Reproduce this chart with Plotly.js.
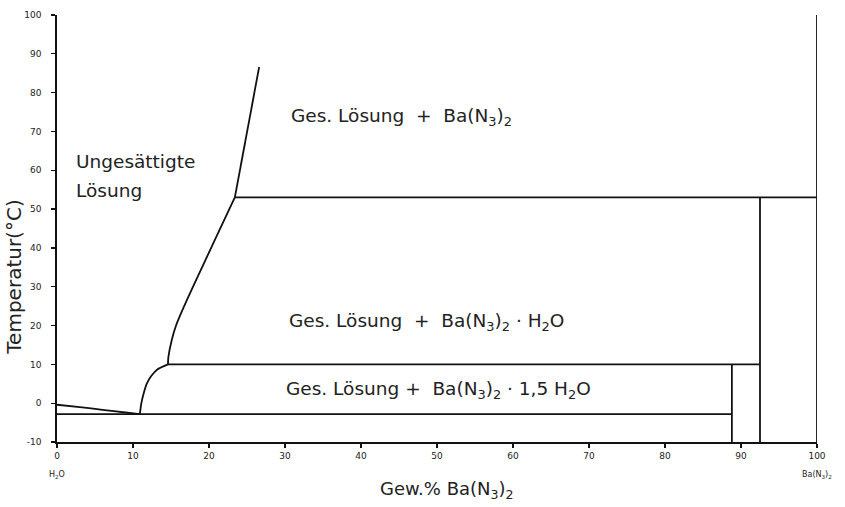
<!DOCTYPE html>
<html>
<head>
<meta charset="utf-8">
<script src="https://cdn.plot.ly/plotly-3.0.1.min.js"></script>
<style>html,body{margin:0;padding:0;background:#fff;}#chart{width:845px;height:507px;}</style>
</head>
<body>
<div id="chart"></div>
<script>
// Phase boundaries of Ba(N3)2 - H2O (wt% Ba(N3)2 vs temperature °C)
const iceCurveX = [0, 3, 6, 9, 10.9];
const iceCurveT = [-0.4, -1.0, -1.7, -2.4, -2.8];

const hydrate15CurveX = [10.9, 11.1, 11.4, 11.8, 12.4, 13.2, 14.6];
const hydrate15CurveT = [-2.8, 0.0, 2.5, 5.0, 7.0, 8.7, 10.0];

const hydrate1CurveX = [14.6, 14.65, 15.1, 15.7, 17.1, 23.4];
const hydrate1CurveT = [10.0, 11.8, 16.3, 20.2, 26.6, 53.0];

const anhydrousCurveX = [23.4, 26.6];
const anhydrousCurveT = [53.0, 86.6];

const eutecticX = [0, 88.8];
const eutecticT = [-2.8, -2.8];

const transition1X = [14.6, 92.5];
const transition1T = [10.0, 10.0];

const transition2X = [23.4, 100];
const transition2T = [53.0, 53.0];

const hydrate15ColX = [88.8, 88.8];
const hydrate15ColT = [-10, 10.0];

const hydrate1ColX = [92.5, 92.5];
const hydrate1ColT = [-10, 53.0];

const rightEdgeX = [100, 100];
const rightEdgeT = [-10, 100];

const xTicks = [0, 10, 20, 30, 40, 50, 60, 70, 80, 90, 100];
const yTicks = [-10, 0, 10, 20, 30, 40, 50, 60, 70, 80, 90, 100];

const regionLabels = [
  {x: 2.3, y: 62.3, text: 'Ungesättigte'},
  {x: 2.3, y: 54.8, text: 'Lösung'},
  {x: 30.5, y: 73.6, text: 'Ges. Lösung  +  Ba(N<sub>3</sub>)<sub>2</sub>'},
  {x: 30.2, y: 21.0, text: 'Ges. Lösung  +  Ba(N<sub>3</sub>)<sub>2</sub> · H<sub>2</sub>O'},
  {x: 29.9, y: 3.4, text: 'Ges. Lösung +  Ba(N<sub>3</sub>)<sub>2</sub> · 1,5 H<sub>2</sub>O'}
];

const lineStyle = {color: '#111', width: 1.8};
const series = [
  [iceCurveX, iceCurveT, 'spline'],
  [hydrate15CurveX, hydrate15CurveT, 'spline'],
  [hydrate1CurveX, hydrate1CurveT, 'spline'],
  [anhydrousCurveX, anhydrousCurveT, 'linear'],
  [eutecticX, eutecticT, 'linear'],
  [transition1X, transition1T, 'linear'],
  [transition2X, transition2T, 'linear'],
  [hydrate15ColX, hydrate15ColT, 'linear'],
  [hydrate1ColX, hydrate1ColT, 'linear'],
  [rightEdgeX, rightEdgeT, 'linear']
];
const traces = series.map(s => ({
  x: s[0], y: s[1], mode: 'lines', type: 'scatter',
  line: Object.assign({shape: s[2], smoothing: 0.6}, lineStyle),
  hoverinfo: 'skip', showlegend: false, cliponaxis: false
}));

const font = 'DejaVu Sans, sans-serif';
const annotations = regionLabels.map(l => ({
  x: l.x, y: l.y, xref: 'x', yref: 'y', text: l.text, showarrow: false,
  xanchor: 'left', yanchor: 'middle', font: {family: font, size: 18.5, color: '#222'}
}));
annotations.push({x: 0, y: -0.06, xref: 'x', yref: 'paper', text: 'H<sub>2</sub>O', showarrow: false,
  xanchor: 'center', yanchor: 'top', font: {family: font, size: 8, color: '#222'}});
annotations.push({x: 100, y: -0.06, xref: 'x', yref: 'paper', text: 'Ba(N<sub>3</sub>)<sub>2</sub>', showarrow: false,
  xanchor: 'center', yanchor: 'top', font: {family: font, size: 8, color: '#222'}});
annotations.push({x: 51.3, y: -0.112, xref: 'x', yref: 'paper', text: 'Gew.% Ba(N<sub>3</sub>)<sub>2</sub>', showarrow: false,
  xanchor: 'center', yanchor: 'middle', font: {family: font, size: 18, color: '#222'}});
annotations.push({x: -0.057, y: 32.5, xref: 'paper', yref: 'y', text: 'Temperatur(°C)', showarrow: false,
  textangle: -90, xanchor: 'center', yanchor: 'middle', font: {family: font, size: 20, color: '#222'}});

const layout = {
  width: 845, height: 507,
  margin: {l: 57, r: 28, t: 15, b: 65},
  paper_bgcolor: '#fff', plot_bgcolor: '#fff',
  showlegend: false,
  xaxis: {
    range: [0, 100], tickvals: xTicks, ticktext: xTicks.map(String),
    showgrid: false, zeroline: false, showline: true, linecolor: '#111', linewidth: 1.8,
    ticks: 'outside', ticklen: 4, tickcolor: '#111', tickwidth: 1.2,
    tickfont: {family: font, size: 9, color: '#222'}
  },
  yaxis: {
    range: [-10, 100], tickvals: yTicks, ticktext: yTicks.map(String),
    showgrid: false, zeroline: false, showline: true, linecolor: '#111', linewidth: 1.8,
    ticks: 'outside', ticklen: 4, tickcolor: '#111', tickwidth: 1.2,
    ticklabelstandoff: 8,
    tickfont: {family: font, size: 9, color: '#222'}
  },
  annotations: annotations
};

Plotly.newPlot('chart', traces, layout, {staticPlot: true, displayModeBar: false});
</script>
</body>
</html>
